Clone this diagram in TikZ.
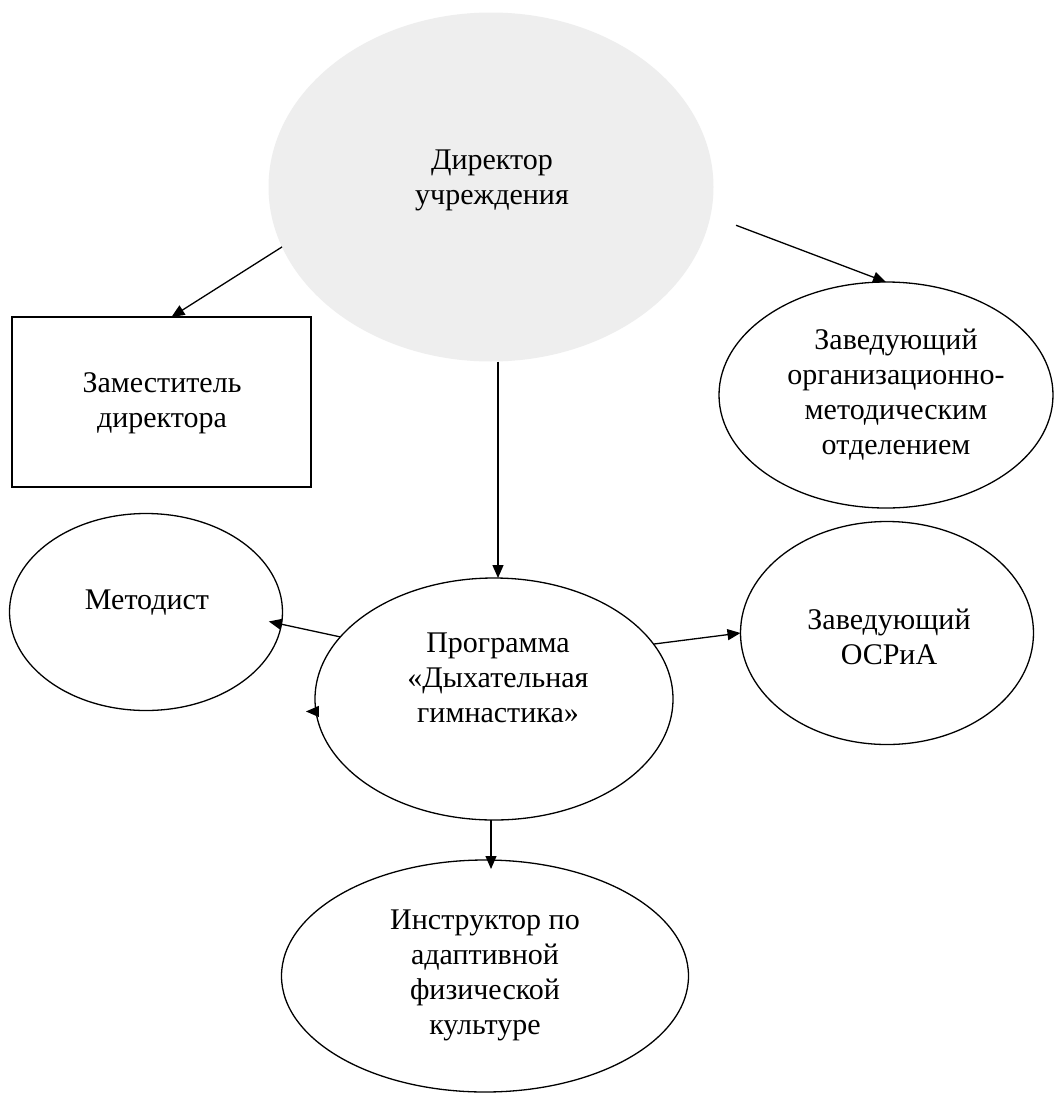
\documentclass[tikz,border=0pt]{standalone}
\usepackage{fontspec}
\setmainfont{Liberation Serif}
\usetikzlibrary{shapes.geometric,arrows.meta}
\begin{document}
\begin{tikzpicture}[x=1pt,y=-1pt,
  every node/.style={inner sep=0pt, outer sep=0pt},
  oval/.style={ellipse, draw=black, line width=1.3pt, fill=white},
  headoval/.style={ellipse, fill=gray!13},
  box/.style={rectangle, draw=black, line width=1.3pt},
  lbl/.style={align=center, font=\fontsize{30}{35}\selectfont},
  conn/.style={line width=1.3pt, -{Triangle[length=13pt,width=11pt]}}]
\fill[white] (0,0) rectangle (1056,1093);
\useasboundingbox (0,0) rectangle (1056,1093);
% shapes
\node[headoval, minimum width=445pt, minimum height=349pt] (dir) at (491,187) {};
\node[lbl] (dirT) at (492,180) {Директор\\учреждения};
\node[box, minimum width=299pt, minimum height=170pt] (dep) at (161.5,402) {};
\node[lbl] (depT) at (162,403) {Заместитель\\директора};
\node[oval, minimum width=334pt, minimum height=226pt] (org) at (886,395) {};
\node[lbl] (orgT) at (896,395) {Заведующий\\организационно-\\методическим\\отделением};
\node[oval, minimum width=273pt, minimum height=197pt] (met) at (146,612) {};
\node[lbl] (metT) at (147,603) {Методист};
\node[oval, minimum width=358pt, minimum height=242pt] (prog) at (494,699) {};
\node[lbl] (progT) at (498,678) {Программа\\«Дыхательная\\гимнастика»};
\node[oval, minimum width=293pt, minimum height=223pt] (osr) at (887,633) {};
\node[lbl] (osrT) at (889,637) {Заведующий\\ОСРиА};
\node[oval, minimum width=407pt, minimum height=232pt] (ins) at (485,976) {};
\node[lbl] (insT) at (485,975) {Инструктор по\\адаптивной\\физической\\культуре};
% connectors
\draw[conn] (dir.196) -- ([xshift=10pt]dep.north);
\draw[conn] ([xshift=28pt]dir.-10) -- (org.north);
\draw[conn] ([xshift=4pt]prog.north |- dir.south) -- ([xshift=4pt]prog.north);
\draw[conn] (prog.158) -- ([xshift=-13pt]met.-4);
\draw[conn] (prog.19) -- (osr.west);
\draw[conn] ([xshift=-3pt]prog.south) -- ([xshift=-3pt,yshift=-9pt]prog.south |- ins.north);
\draw[conn] (prog.184) -- ([xshift=-10pt]prog.184);
\end{tikzpicture}
\end{document}
